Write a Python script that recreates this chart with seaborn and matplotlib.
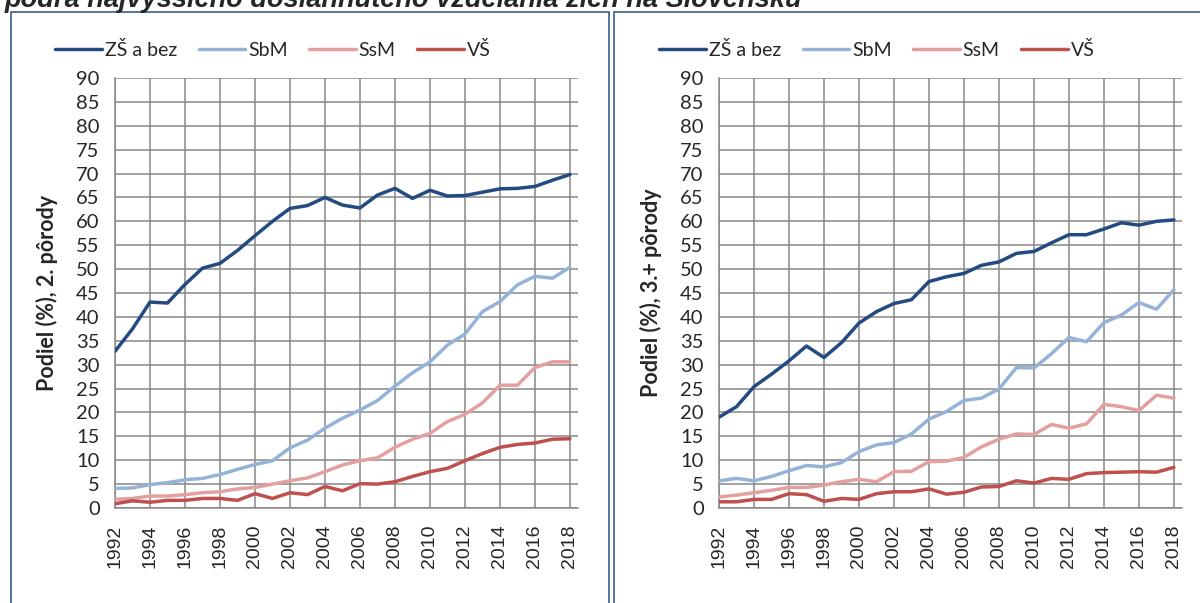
import numpy as np
import pandas as pd
import matplotlib
matplotlib.use("Agg")
import matplotlib.pyplot as plt
from matplotlib.patches import Rectangle
import seaborn as sns

years = list(range(1992, 2019))
groups = ["ZŠ a bez", "SbM", "SsM", "VŠ"]
colors = ["#234B82", "#95B3D7", "#E3A09F", "#C0504D"]

# podiel (%), 2. porody
zs_2 = [32.8, 37.5, 43.1, 42.9, 46.8, 50.2, 51.2, 53.9, 57.0, 60.0, 62.7, 63.3, 65.0, 63.4,
        62.8, 65.5, 66.9, 64.8, 66.5, 65.3, 65.4, 66.1, 66.8, 66.9, 67.3, 68.6, 69.8]
sbm_2 = [4.1, 4.2, 4.9, 5.3, 5.9, 6.2, 7.0, 8.1, 9.1, 9.9, 12.6, 14.2, 16.7, 18.8,
         20.5, 22.5, 25.5, 28.3, 30.6, 34.1, 36.4, 41.1, 43.2, 46.7, 48.5, 48.1, 50.4]
ssm_2 = [1.8, 2.0, 2.5, 2.5, 2.8, 3.2, 3.4, 4.0, 4.3, 5.0, 5.7, 6.3, 7.6, 9.0,
         9.9, 10.5, 12.7, 14.4, 15.6, 18.1, 19.6, 22.0, 25.7, 25.7, 29.4, 30.6, 30.6]
vs_2 = [0.9, 1.5, 1.2, 1.6, 1.6, 2.0, 2.0, 1.6, 3.0, 2.0, 3.2, 2.8, 4.5, 3.6,
        5.1, 5.0, 5.5, 6.6, 7.6, 8.3, 9.9, 11.4, 12.7, 13.3, 13.6, 14.4, 14.5]

# podiel (%), 3.+ porody
zs_3 = [19.0, 21.2, 25.4, 28.0, 30.8, 33.9, 31.5, 34.6, 38.7, 41.1, 42.8, 43.6, 47.4, 48.4,
        49.1, 50.8, 51.5, 53.3, 53.7, 55.5, 57.2, 57.2, 58.4, 59.7, 59.2, 60.0, 60.3]
sbm_3 = [5.7, 6.2, 5.7, 6.6, 7.8, 8.9, 8.6, 9.5, 11.8, 13.2, 13.7, 15.5, 18.6, 20.2,
         22.5, 23.0, 24.9, 29.4, 29.3, 32.3, 35.7, 34.8, 38.8, 40.4, 43.0, 41.6, 45.7]
ssm_3 = [2.3, 2.7, 3.2, 3.7, 4.3, 4.3, 4.8, 5.5, 6.0, 5.5, 7.6, 7.7, 9.7, 9.8,
         10.6, 12.8, 14.4, 15.5, 15.4, 17.5, 16.7, 17.6, 21.7, 21.2, 20.4, 23.6, 23.0]
vs_3 = [1.3, 1.3, 1.8, 1.8, 3.0, 2.8, 1.4, 2.0, 1.8, 3.0, 3.4, 3.4, 4.0, 2.9,
        3.3, 4.4, 4.5, 5.7, 5.2, 6.2, 6.0, 7.2, 7.4, 7.5, 7.6, 7.5, 8.5]

ylabels = ["Podiel (%), 2. pôrody", "Podiel (%), 3.+ pôrody"]
title = "podľa najvyššieho dosiahnutého vzdelania žien na Slovensku"


def make_df(series):
    df = pd.DataFrame({"rok": years})
    for name, vals in zip(groups, series):
        df[name] = vals
    return df.melt(id_vars="rok", var_name="vzdelanie", value_name="podiel")


sns.set_style("white")
plt.rcParams["font.family"] = ["Lato", "DejaVu Sans"]

W, H = 1200, 603
fig = plt.figure(figsize=(12, 6.03), dpi=100)

grid_c = "#878787"
panels = [(115, [zs_2, sbm_2, ssm_2, vs_2], ylabels[0]),
          (719, [zs_3, sbm_3, ssm_3, vs_3], ylabels[1])]

for left_px, series, ylab in panels:
    ax = fig.add_axes([left_px / W, 1 - 508 / H, 463 / W, 430 / H])
    df = make_df(series)
    sns.lineplot(data=df, x="rok", y="podiel", hue="vzdelanie", hue_order=groups,
                 palette=colors, linewidth=2.5, ax=ax, zorder=3)
    ax.set_xlim(1992, 2018.46)
    ax.set_ylim(0, 90)
    ax.set_xticks(range(1992, 2019, 2))
    ax.set_yticks(range(0, 91, 5))
    ax.grid(True, color=grid_c, linewidth=1.1, zorder=0)
    ax.set_axisbelow(True)
    for s in ["top", "right"]:
        ax.spines[s].set_visible(False)
    for s in ["left", "bottom"]:
        ax.spines[s].set_color(grid_c)
        ax.spines[s].set_linewidth(1.1)
    ax.tick_params(axis="y", length=6, width=1.1, color=grid_c, pad=5, labelsize=14.5)
    ax.tick_params(axis="x", length=5, width=1.1, color=grid_c, pad=7, labelsize=14,
                   labelrotation=90)
    for lbl in ax.get_xticklabels():
        lbl.set_fontfamily("Liberation Sans")
    ax.set_xlabel("")
    ax.set_ylabel(ylab, fontsize=15.5, fontweight="bold")
    ax.yaxis.set_label_coords(-57 / 463, 0.5)
    ax.legend(loc="center", bbox_to_anchor=((left_px + 158) / W, 1 - 50 / H),
              bbox_transform=fig.transFigure, ncol=4, frameon=False, fontsize=14,
              handlelength=2.4, handletextpad=0.15, columnspacing=1.1)

# frames round the two panels
fig.patches.append(Rectangle((11 / W, -0.1), (608.5 - 11) / W, 1.1 - 12 / H,
                             transform=fig.transFigure, fill=False,
                             ec="#385D8A", lw=1.2))
fig.patches.append(Rectangle((614 / W, -0.1), 1.0, 1.1 - 12 / H,
                             transform=fig.transFigure, fill=False,
                             ec="#385D8A", lw=1.2))

fig.text(5 / W, 1 - 7 / H, title, fontfamily="Liberation Sans", fontweight="bold",
         fontstyle="italic", fontsize=19.5, va="baseline", ha="left")

fig.savefig("out.png", dpi=100)
